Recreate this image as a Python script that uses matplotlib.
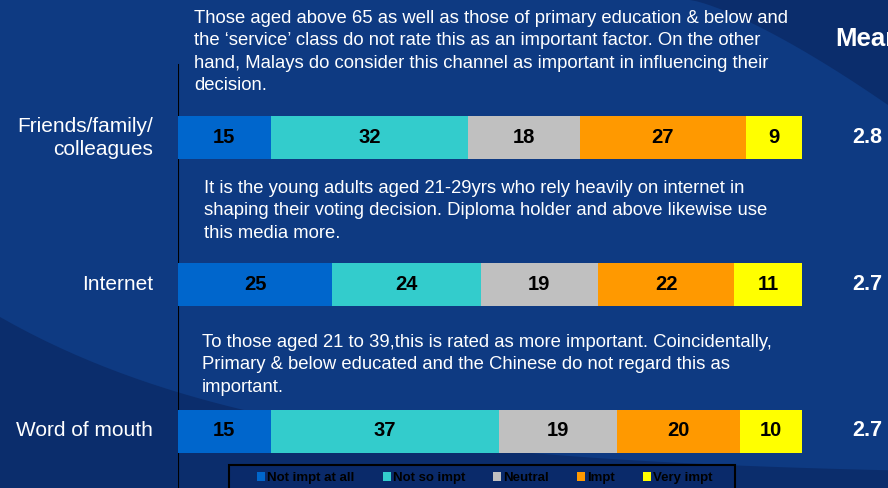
import matplotlib
matplotlib.use("Agg")
import matplotlib.pyplot as plt
import matplotlib.transforms as mtransforms
from matplotlib.patches import Polygon, Patch, Rectangle
import numpy as np

categories = ["Friends/family/\ncolleagues", "Internet", "Word of mouth"]
series_names = ["Not impt at all", "Not so impt", "Neutral", "Impt", "Very impt"]
not_impt_at_all = [15, 25, 15]
not_so_impt = [32, 24, 37]
neutral = [18, 19, 19]
impt = [27, 22, 20]
very_impt = [9, 11, 10]
means = ["2.8", "2.7", "2.7"]
notes = [
    "Those aged above 65 as well as those of primary education & below and\n"
    "the \u2018service\u2019 class do not rate this as an important factor. On the other\n"
    "hand, Malays do consider this channel as important in influencing their\n"
    "decision.",
    "It is the young adults aged 21-29yrs who rely heavily on internet in\n"
    "shaping their voting decision. Diploma holder and above likewise use\n"
    "this media more.",
    "To those aged 21 to 39,this is rated as more important. Coincidentally,\n"
    "Primary & below educated and the Chinese do not regard this as\n"
    "important.",
]

colors = ["#0066CC", "#33CCCC", "#C0C0C0", "#FF9900", "#FFFF00"]
series = [not_impt_at_all, not_so_impt, neutral, impt, very_impt]

plt.rcParams['font.family'] = ['Liberation Sans', 'DejaVu Sans']

W, H = 888, 488
fig = plt.figure(figsize=(W / 100, H / 100), dpi=100)
bg = "#0E3A82"
dark = "#0B2D6C"
fig.patch.set_facecolor(bg)

def fx(x): return x / W
def fy(y): return 1 - y / H

# background decoration
lower_pts = [(fx(0), fy(488)), (fx(0), fy(317))]
for x in np.linspace(0, 888, 60):
    y = 317 + 160 * (1 - np.exp(-x / 280))
    lower_pts.append((fx(x), fy(min(y, 488))))
lower_pts.append((fx(888), fy(488)))
fig.patches.append(Polygon(lower_pts, closed=True, transform=fig.transFigure,
                           facecolor=dark, edgecolor="none", zorder=0))
upper_pts = [(fx(690), fy(0))]
for x in np.linspace(690, 888, 30):
    t = (x - 690) / 198
    upper_pts.append((fx(x), fy(105 * t ** 1.3)))
upper_pts.append((fx(888), fy(0)))
fig.patches.append(Polygon(upper_pts, closed=True, transform=fig.transFigure,
                           facecolor=dark, edgecolor="none", zorder=0))

# axes: x 178..802 px, y full height
x0, x1 = 178, 802
ax = fig.add_axes([fx(x0), 0, (x1 - x0) / W, 1])
ax.set_zorder(2)
ax.set_facecolor("none")
total = 101
ax.set_xlim(0, total)
unit = 146.5
c0 = 138
ax.set_ylim((H - c0) / unit, -c0 / unit)
ypos = np.arange(len(categories))
bh = 43 / unit

left = np.zeros(len(categories))
for vals, col in zip(series, colors):
    vals = np.array(vals, dtype=float)
    ax.barh(ypos, vals, left=left, height=bh, color=col, edgecolor="none", zorder=2)
    for yy, l, v in zip(ypos, left, vals):
        ax.text(l + v / 2, yy, f"{int(v)}", ha="center", va="center",
                fontsize=14.5, fontweight="bold", color="black", zorder=3)
    left += vals

for s in ax.spines.values():
    s.set_visible(False)
ax.set_xticks([])
ax.set_yticks([])
ax.axvline(0, ymin=0, ymax=(H - 65) / H, color="black", lw=1.5, zorder=1)

blend = mtransforms.blended_transform_factory(fig.transFigure, ax.transData)

# category labels
for yy, cat in zip(ypos, categories):
    ax.text(fx(153), yy, cat, ha="right", va="center",
            fontsize=15, color="white", linespacing=1.3, transform=blend)

# annotation notes
note_x = [194, 204, 202]
note_top = [10, 180, 334]
for nx, nt, txt in zip(note_x, note_top, notes):
    fig.text(fx(nx), fy(nt), txt, ha="left", va="top", fontsize=13.3,
             color="white", linespacing=1.41)

# Mean column (header runs off the right edge, as in the source slide)
fig.text(fx(835), fy(39), "Mean", ha="left", va="center", fontsize=18.5,
         fontweight="bold", color="white")
for yy, m in zip(ypos, means):
    ax.text(fx(852), yy, m, ha="left", va="center", fontsize=15.5,
            fontweight="bold", color="white", transform=blend)

# legend box and legend
fig.patches.append(Rectangle((fx(229), fy(496)), (735 - 229) / W, 31 / H,
                             transform=fig.transFigure, facecolor="#0A2A6A",
                             edgecolor="black", lw=1.5, zorder=4))
handles = [Patch(facecolor=c, edgecolor="none") for c in colors]
leg = fig.legend(handles, series_names, loc="upper left", ncol=5,
                 bbox_to_anchor=(fx(257), fy(472)), frameon=False,
                 handlelength=0.6, handleheight=0.6,
                 handletextpad=0.15, columnspacing=2.15, borderpad=0,
                 borderaxespad=0,
                 prop={"size": 9.5, "weight": "bold"})
for t in leg.get_texts():
    t.set_color("black")
leg.set_zorder(5)

fig.savefig("out.png", dpi=100, facecolor=fig.get_facecolor())
